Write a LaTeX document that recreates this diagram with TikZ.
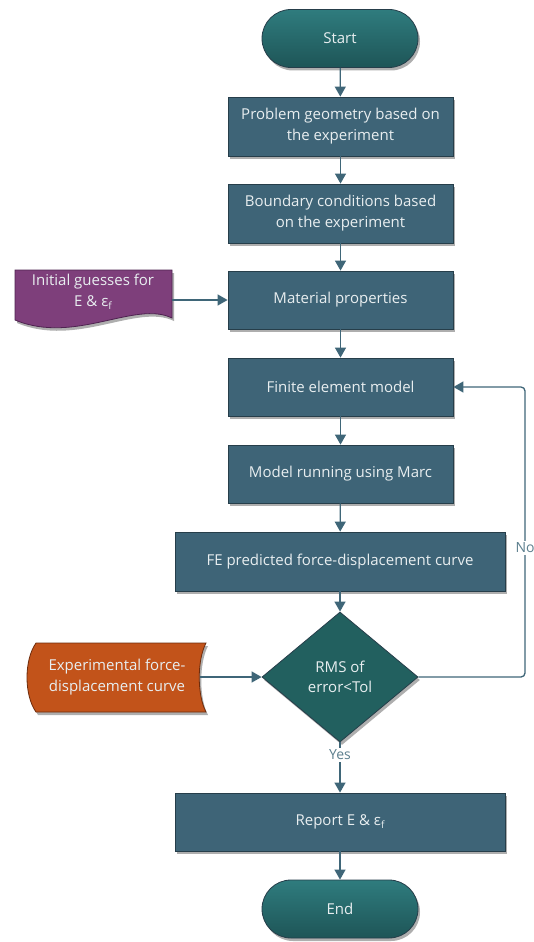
\documentclass[tikz,border=0pt]{standalone}
\usepackage{fontspec}
\setmainfont{Open Sans}
\usetikzlibrary{shapes.geometric,shapes.misc,arrows.meta,shadows}
\definecolor{boxfill}{HTML}{3E6477}
\definecolor{boxedge}{HTML}{263E4A}
\definecolor{termtop}{HTML}{2F7C7E}
\definecolor{termbot}{HTML}{1E5557}
\definecolor{diafill}{HTML}{22605F}
\definecolor{purp}{HTML}{7E3F7B}
\definecolor{purpedge}{HTML}{4E2350}
\definecolor{orng}{HTML}{C2531A}
\definecolor{orngedge}{HTML}{6E2C0C}
\definecolor{arrowc}{HTML}{3F6678}
\definecolor{txt}{HTML}{E8EEF0}
\definecolor{lbl}{HTML}{5C7F8E}
\newcommand{\epsf}{ε\raisebox{-0.35ex}{\fontsize{10}{11}\selectfont f}}
\tikzset{
  x=1pt,y=-1pt,
  shade/.style={drop shadow={shadow xshift=2pt,shadow yshift=-3pt,opacity=0.45,fill=black!70}},
  procbox/.style={rectangle,draw=boxedge,line width=0.8pt,fill=boxfill,text=txt,align=center,
    font=\fontsize{15}{21}\selectfont,inner sep=0pt,shade},
  term/.style={rounded rectangle,draw=boxedge,line width=0.8pt,top color=termtop,bottom color=termbot,
    text=txt,font=\fontsize{15}{21}\selectfont,minimum width=156,minimum height=58,inner sep=0pt,shade},
  decision/.style={diamond,draw=boxedge,line width=0.8pt,fill=diafill,text=txt,align=center,
    font=\fontsize{15}{20}\selectfont,minimum width=156,minimum height=130,inner sep=0pt,shade},
  txtnode/.style={text=txt,align=center,font=\fontsize{15}{21}\selectfont,inner sep=0pt},
  flow/.style={draw=arrowc,line width=1.3pt,-{Triangle[length=10pt,width=11pt]}},
  flowlabel/.style={fill=white,text=lbl,font=\fontsize{14}{16}\selectfont,inner sep=1.5pt},
}
\begin{document}
\begin{tikzpicture}
\useasboundingbox[fill=white] (0,0) rectangle (534,942);

% shapes
\node[term] (start) at (340,38.5) {Start};
\node[procbox,minimum width=225,minimum height=59] (b1) at (340.5,126.5) {Problem geometry based on\\the experiment};
\node[procbox,minimum width=225,minimum height=59] (b2) at (340.5,213.5) {Boundary conditions based\\on the experiment};
\node[procbox,minimum width=225,minimum height=58] (b3) at (340.5,300) {Material properties};
\node[procbox,minimum width=225,minimum height=58] (b4) at (340.5,387) {Finite element model};
\node[procbox,minimum width=225,minimum height=58] (b5) at (340.5,474) {Model running using Marc};
\node[procbox,minimum width=330,minimum height=59] (b6) at (340,561.5) {FE predicted force-displacement curve};
\node[decision] (dia) at (340,677) {RMS of\\error<Tol};
\node[procbox,minimum width=330,minimum height=58] (b7) at (340,822) {Report E \& \epsf};
\node[term] (end) at (340,909) {End};

% purple document
\path[fill=purp,draw=purpedge,line width=0.8pt,shade]
  (15,270) -- (172,270) -- (172,318)
  .. controls (135,300) and (75,345) .. (15,320) -- cycle;
\node[txtnode] (guess) at (93,292) {Initial guesses for\\E \& \epsf};
\coordinate (guessE) at (172,300);

% orange stored data
\path[fill=orng,draw=orngedge,line width=0.8pt,shade]
  (36,643) -- (206,643) .. controls (197,660) and (197,695) .. (206,712)
  -- (36,712) .. controls (24,695) and (24,660) .. (36,643) -- cycle;
\node[txtnode] (exper) at (117,677) {Experimental force-\\displacement curve};
\coordinate (experE) at (200,677);

% connectors
\draw[flow] (start) -- (b1);
\draw[flow] (b1) -- (b2);
\draw[flow] (b2) -- (b3);
\draw[flow] (b3) -- (b4);
\draw[flow] (b4) -- (b5);
\draw[flow] (b5) -- (b6);
\draw[flow] (b6) -- (dia);
\draw[flow] (dia) -- (b7);
\draw[flow] (b7) -- (end);
\draw[flow] (guessE) -- (b3.west);
\draw[flow] (experE) -- (dia.west);
\coordinate (loop) at (525,387);
\draw[flow,rounded corners=4pt] (dia.east) -| (loop) -- (b4.east);

% labels
\node[flowlabel] (no) at (525,548) {No};
\node[flowlabel] (yes) at (340,755) {Yes};
\end{tikzpicture}
\end{document}
